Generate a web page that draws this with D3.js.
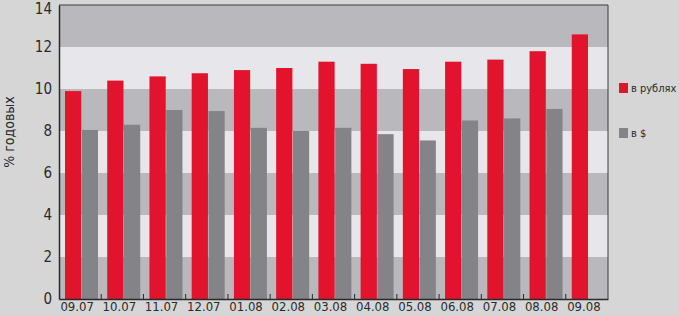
<!DOCTYPE html>
<html>
<head>
<meta charset="utf-8">
<script src="https://cdn.jsdelivr.net/npm/d3@7"></script>
<style>
  body { margin: 0; background: #d6d6d6; }
  svg { display: block; }
  text { font-family: "Liberation Sans Narrow", "DejaVu Sans Condensed", "Liberation Sans", sans-serif; font-stretch: condensed; fill: #2a2a2a; }
</style>
</head>
<body>
<svg width="679" height="316"></svg>
<script>
var months = ["09.07", "10.07", "11.07", "12.07", "01.08", "02.08", "03.08", "04.08", "05.08", "06.08", "07.08", "08.08", "09.08"];
var rub = [9.9, 10.4, 10.6, 10.75, 10.9, 11.0, 11.3, 11.2, 10.95, 11.3, 11.4, 11.8, 12.6];
var usd = [8.05, 8.3, 9.0, 8.95, 8.15, 8.0, 8.15, 7.85, 7.55, 8.5, 8.6, 9.05, null];
var yTicks = [0, 2, 4, 6, 8, 10, 12, 14];
var seriesNames = ["в рублях", "в $"];
var colors = ["#e2132d", "#848488"];

var svg = d3.select("svg");
var plotLeft = 59, plotRight = 608, plotTop = 5, plotBottom = 299;

var x = d3.scaleBand().domain(months).range([plotLeft, plotRight]).padding(0);
var x1 = d3.scaleBand().domain([0, 1]).range([6, 39]).paddingInner(0.03);
var y = d3.scaleLinear().domain([0, 14]).range([plotBottom, plotTop]);

// alternating bands
var bands = d3.range(0, 14, 2);
svg.append("g")
  .selectAll("rect")
  .data(bands)
  .enter().append("rect")
  .attr("x", plotLeft)
  .attr("width", plotRight - plotLeft)
  .attr("y", function(d) { return y(d + 2); })
  .attr("height", function(d) { return y(d) - y(d + 2); })
  .attr("fill", function(d, i) { return i % 2 == 0 ? "#b9b9bd" : "#e7e7eb"; });

// bars
var groups = svg.append("g")
  .selectAll("g")
  .data(months)
  .enter().append("g")
  .attr("transform", function(d) { return "translate(" + x(d) + ",0)"; });

groups.selectAll("rect")
  .data(function(d, i) { return [rub[i], usd[i]]; })
  .enter()
  .append("rect")
  .attr("x", function(d, i) { return x1(i); })
  .attr("width", x1.bandwidth())
  .attr("y", function(d) { return d == null ? plotBottom : y(d); })
  .attr("height", function(d) { return d == null ? 0 : y(0) - y(d); })
  .attr("fill", function(d, i) { return colors[i]; });

// frame
svg.append("path")
  .attr("d", "M" + plotLeft + "," + plotTop + "H" + plotRight + "V" + plotBottom)
  .attr("fill", "none")
  .attr("stroke", "#3a3a3a")
  .attr("stroke-width", 1);

// y axis
var yAxis = svg.append("g")
  .attr("transform", "translate(" + plotLeft + ",0)")
  .call(d3.axisLeft(y).tickValues(yTicks).tickSize(0).tickPadding(7));
yAxis.select(".domain").attr("stroke", "#2a2a2a").attr("stroke-width", 1.5);
yAxis.selectAll("text")
  .style("font-size", "15px")
  .attr("fill", "#2a2a2a")
  .attr("y", function(d) { return d == 14 ? 4 : 0; });

// x axis
var xAxis = svg.append("g")
  .attr("transform", "translate(0," + plotBottom + ")")
  .call(d3.axisBottom(x).tickSize(0).tickPadding(3));
xAxis.select(".domain").attr("stroke", "#2a2a2a").attr("stroke-width", 1.5);
xAxis.selectAll("text").style("font-size", "13px").attr("dx", -3).attr("fill", "#2a2a2a");

// small ticks between categories
svg.append("g")
  .selectAll("line")
  .data(months.slice(1))
  .enter().append("line")
  .attr("x1", function(d) { return x(d); })
  .attr("x2", function(d) { return x(d); })
  .attr("y1", plotBottom - 5)
  .attr("y2", plotBottom)
  .attr("stroke", "#2a2a2a");

// y title
svg.append("text")
  .attr("transform", "translate(14,132) rotate(-90)")
  .attr("text-anchor", "middle")
  .style("font-size", "14px")
  .text("% годовых");

// legend
var legend = svg.append("g")
  .selectAll("g")
  .data(seriesNames)
  .enter().append("g")
  .attr("transform", function(d, i) { return "translate(619," + (83 + i * 45) + ")"; });
legend.append("rect")
  .attr("width", 9)
  .attr("height", 10)
  .attr("fill", function(d, i) { return colors[i]; });
legend.append("text")
  .attr("x", 12)
  .attr("y", 9)
  .style("font-size", "11px")
  .text(function(d) { return d; });
</script>
</body>
</html>
